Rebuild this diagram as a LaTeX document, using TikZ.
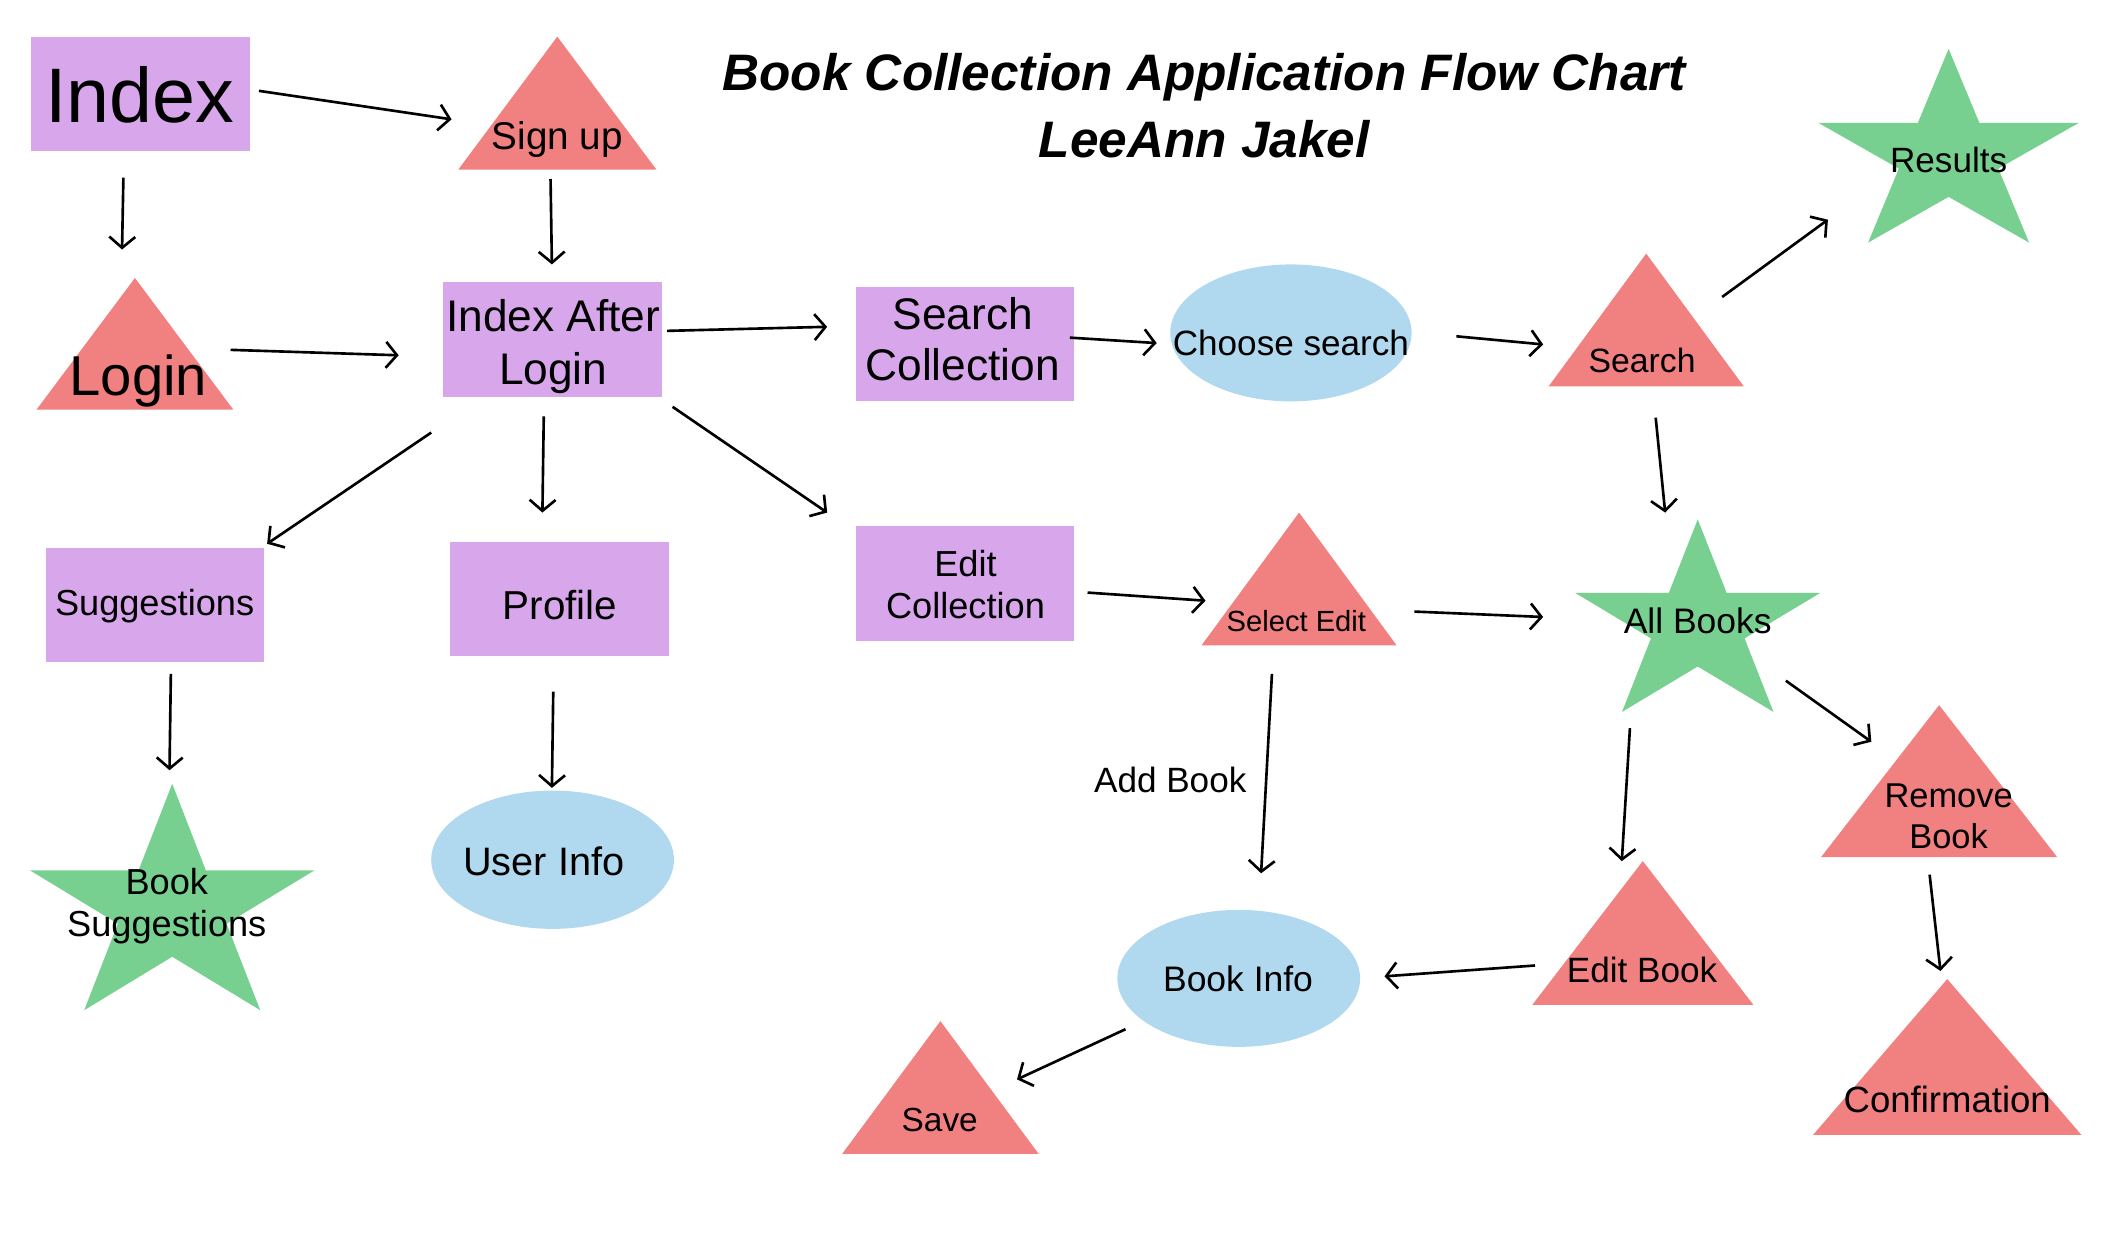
\documentclass[tikz,border=0pt]{standalone}
\usepackage{fontspec}
\setmainfont{Liberation Sans}
\usetikzlibrary{arrows.meta,shapes.geometric}
\definecolor{purp}{RGB}{215,166,235}
\definecolor{coral}{RGB}{241,128,128}
\definecolor{grn}{RGB}{119,208,143}
\definecolor{blu}{RGB}{176,216,238}
\newcommand\fsz[2]{\fontsize{#1}{#2}\selectfont}
\newcommand\mystarfill[4]{\fill[grn] plot[samples at={0,...,9}, variable=\k]
  ({#1+#3*((mod(\k,2)==0)?1:0.382)*cos(90+36*\k)}, {#2-#4*((mod(\k,2)==0)?1:0.382)*sin(90+36*\k)}) -- cycle;}
\tikzset{
  conn/.style={line width=0.75pt, -{Straight Barb[length=1.1mm,width=2.6mm,line width=0.75pt]}},
  txt/.style={inner sep=0pt, align=center, text=black},
}
\begin{document}
\begin{tikzpicture}[x=0.01356cm, y=-0.01356cm]
\path[use as bounding box] (0,0) rectangle (1567.1,908.6);
% ---------- shapes ----------
% rectangles
\fill[purp] (23,27) rectangle (184,111);
\fill[purp] (327,208) rectangle (488,293);
\fill[purp] (631,212) rectangle (792,296);
\fill[purp] (34,404) rectangle (195,488);
\fill[purp] (332,400) rectangle (493,484);
\fill[purp] (631,388) rectangle (792,473);
% triangles
\fill[coral] (411,27) -- (338,125) -- (484,125) -- cycle;
\fill[coral] (99.5,205) -- (27,302) -- (172,302) -- cycle;
\fill[coral] (1214,187) -- (1142,285) -- (1286,285) -- cycle;
\fill[coral] (958,378) -- (886,476) -- (1030,476) -- cycle;
\fill[coral] (1211.5,635) -- (1130,741) -- (1293,741) -- cycle;
\fill[coral] (1430,520) -- (1343,632) -- (1517,632) -- cycle;
\fill[coral] (1436,722) -- (1337,837) -- (1535,837) -- cycle;
\fill[coral] (693.5,753) -- (621,851) -- (766,851) -- cycle;
% ellipses
\fill[blu] (952,245.5) ellipse [x radius=89, y radius=50.5];
\fill[blu] (407.5,634) ellipse [x radius=89.5, y radius=51];
\fill[blu] (913.5,721.5) ellipse [x radius=89.5, y radius=50.5];
% stars
\mystarfill{1437}{115}{101}{79}
\mystarfill{1252}{461.5}{95}{78.5}
\mystarfill{127}{670.3}{110.4}{92.3}
% ---------- texts ----------
\node[txt, font=\fsz{14.6}{19.2}\bfseries\itshape] (title) at (888,78)
  {Book Collection Application Flow Chart\\LeeAnn Jakel};
\node[txt, font=\fsz{22}{26}] (index) at (103,70) {Index};
\node[txt, font=\fsz{11}{13}] (signup) at (411,103) {Sign up};
\node[txt, font=\fsz{16}{19}] (login) at (102,281) {Login};
\node[txt, font=\fsz{12.6}{15}] (ial) at (408,255.5) {Index After\\Login};
\node[txt, font=\fsz{12.6}{14.6}] (scoll) at (710,250) {Search\\Collection};
\node[txt, font=\fsz{10}{12}] (choose) at (952,253) {Choose search};
\node[txt, font=\fsz{9.6}{12}] (search) at (1211,266) {Search};
\node[txt, font=\fsz{10}{12}] (results) at (1437,118) {Results};
\node[txt, font=\fsz{10.3}{12}] (sugg) at (114,447) {Suggestions};
\node[txt, font=\fsz{11.5}{14}] (profile) at (413,446) {Profile};
\node[txt, font=\fsz{10.3}{11.9}] (ecoll) at (712,431) {Edit\\Collection};
\node[txt, font=\fsz{8.3}{10}] (seledit) at (956,458) {Select Edit};
\node[txt, font=\fsz{10.1}{12}] (allbooks) at (1252,458) {All Books};
\node[txt, font=\fsz{10.3}{11.9}] (booksugg) at (123,668) {Book\\Suggestions};
\node[txt, font=\fsz{11.3}{13}] (userinfo) at (401,635) {User Info};
\node[txt, font=\fsz{10}{12}] (addbook) at (863,575) {Add Book};
\node[txt, font=\fsz{10.1}{12}] (bookinfo) at (913,722) {Book Info};
\node[txt, font=\fsz{10}{12}] (editbook) at (1211,715) {Edit Book};
\node[txt, font=\fsz{9.8}{11.9}] (remove) at (1437,602) {Remove\\Book};
\node[txt, font=\fsz{10.4}{12}] (confirm) at (1436,811) {Confirmation};
\node[txt, font=\fsz{9.5}{12}] (save) at (693,826) {Save};
% ---------- connector ends ----------
\coordinate (a1s) at (191,67);   \coordinate (a1e) at (333,88);
\coordinate (a2s) at (91,131);   \coordinate (a2e) at (90,184);
\coordinate (a3s) at (406,132);  \coordinate (a3e) at (407,195);
\coordinate (a4s) at (170,258);  \coordinate (a4e) at (294,262);
\coordinate (a5s) at (492,244);  \coordinate (a5e) at (610,241);
\coordinate (a6s) at (789,249);  \coordinate (a6e) at (853,253);
\coordinate (a7s) at (1074,248); \coordinate (a7e) at (1138,254);
\coordinate (a8s) at (1270,219); \coordinate (a8e) at (1348,162);
\coordinate (a9s) at (1221,308); \coordinate (a9e) at (1228,378);
\coordinate (a10s) at (318,319); \coordinate (a10e) at (197,401);
\coordinate (a11s) at (401,307); \coordinate (a11e) at (400,378);
\coordinate (a12s) at (496,300); \coordinate (a12e) at (610,378);
\coordinate (a13s) at (126,497); \coordinate (a13e) at (125,568);
\coordinate (a14s) at (408,510); \coordinate (a14e) at (407,581);
\coordinate (a15s) at (802,437); \coordinate (a15e) at (889,443);
\coordinate (a16s) at (1043,451); \coordinate (a16e) at (1138,455);
\coordinate (a17s) at (938,497); \coordinate (a17e) at (930,644);
\coordinate (a18s) at (1317,502); \coordinate (a18e) at (1380,547);
\coordinate (a19s) at (1202,537); \coordinate (a19e) at (1196,635);
\coordinate (a20s) at (1423,645); \coordinate (a20e) at (1431,716);
\coordinate (a21s) at (1132,712); \coordinate (a21e) at (1021,720);
\coordinate (a22s) at (830,759); \coordinate (a22e) at (750,796);
% ---------- connectors ----------
\foreach \i in {1,...,22} { \draw[conn] (a\i s) -- (a\i e); }
\end{tikzpicture}
\end{document}
